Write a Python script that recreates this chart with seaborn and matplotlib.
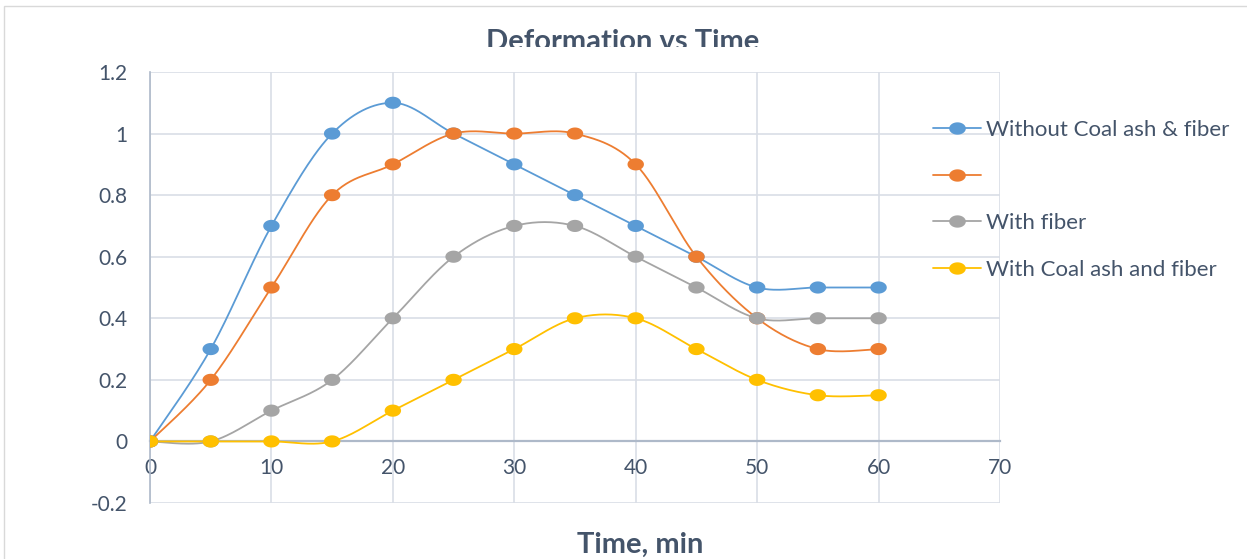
import numpy as np
import pandas as pd
import matplotlib
matplotlib.use("Agg")
import matplotlib.pyplot as plt
import seaborn as sns
from matplotlib.lines import Line2D
from matplotlib.path import Path
from matplotlib.patches import Rectangle
from matplotlib.transforms import Bbox, TransformedBbox
from matplotlib.ticker import FuncFormatter

time_min = [0, 5, 10, 15, 20, 25, 30, 35, 40, 45, 50, 55, 60]
without_coal_ash_fiber = [0, 0.3, 0.7, 1.0, 1.1, 1.0, 0.9, 0.8, 0.7, 0.6, 0.5, 0.5, 0.5]
unnamed_series = [0, 0.2, 0.5, 0.8, 0.9, 1.0, 1.0, 1.0, 0.9, 0.6, 0.4, 0.3, 0.3]
with_fiber = [0, 0, 0.1, 0.2, 0.4, 0.6, 0.7, 0.7, 0.6, 0.5, 0.4, 0.4, 0.4]
with_coal_ash_fiber = [0, 0, 0, 0, 0.1, 0.2, 0.3, 0.4, 0.4, 0.3, 0.2, 0.15, 0.15]

labels = ["Without Coal ash & fiber", "", "With fiber", "With Coal ash and fiber"]
series = [without_coal_ash_fiber, unnamed_series, with_fiber, with_coal_ash_fiber]
colors = ["#5B9BD5", "#ED7D31", "#A5A5A5", "#FFC000"]
keys = ["s1", "s2", "s3", "s4"]

text_col = "#44546A"
grid_col = "#D9DEE6"
axis_col = "#AEB9C9"


def smooth(x, y, n=30):
    # excel style smoothed line (cubic bezier / catmull-rom)
    x = np.asarray(x, float)
    y = np.asarray(y, float)
    px = np.concatenate([[x[0]], x, [x[-1]]])
    py = np.concatenate([[y[0]], y, [y[-1]]])
    xs, ys = [], []
    t = np.linspace(0, 1, n, endpoint=False)
    for i in range(1, len(px) - 2):
        b0 = np.array([px[i], py[i]])
        b3 = np.array([px[i + 1], py[i + 1]])
        b1 = b0 + (np.array([px[i + 1], py[i + 1]]) - np.array([px[i - 1], py[i - 1]])) / 6
        b2 = b3 - (np.array([px[i + 2], py[i + 2]]) - np.array([px[i], py[i]])) / 6
        pts = ((1 - t) ** 3)[:, None] * b0 + (3 * (1 - t) ** 2 * t)[:, None] * b1 \
            + (3 * (1 - t) * t ** 2)[:, None] * b2 + (t ** 3)[:, None] * b3
        xs.extend(pts[:, 0])
        ys.extend(pts[:, 1])
    xs.append(x[-1])
    ys.append(y[-1])
    return xs, ys


curves = []
points = []
for k, vals in zip(keys, series):
    sx, sy = smooth(time_min, vals)
    curves.append(pd.DataFrame({"t": sx, "d": sy, "s": k}))
    points.append(pd.DataFrame({"t": time_min, "d": vals, "s": k}))
curves = pd.concat(curves)
points = pd.concat(points)

sns.set_style("white")
plt.rcParams["font.family"] = ["Lato", "DejaVu Sans"]

fig = plt.figure(figsize=(12.47, 5.59), dpi=100)
ax = fig.add_axes([150 / 1247, 1 - 503 / 559, 850 / 1247, 431 / 559])

# ellipse marker
th = np.linspace(0, 2 * np.pi, 40)
ell = Path(np.column_stack([1.35 * np.cos(th), np.sin(th)]))

palette = dict(zip(keys, colors))
sns.lineplot(data=curves, x="t", y="d", hue="s", units="s", estimator=None, sort=False,
             palette=palette, linewidth=1.3, legend=False, ax=ax, zorder=3)
sns.scatterplot(data=points, x="t", y="d", hue="s", palette=palette, marker=ell, s=140,
                linewidth=0, legend=False, ax=ax, zorder=4)

ax.set_xlim(0, 70)
ax.set_ylim(-0.2, 1.2)
ax.set_xticks(range(0, 71, 10))
ax.set_yticks(np.arange(-0.2, 1.21, 0.2))
ax.yaxis.set_major_formatter(FuncFormatter(lambda v, p: f"{round(v, 1):g}"))
ax.grid(True, color=grid_col, linewidth=1.2)
ax.set_axisbelow(True)
ax.spines["bottom"].set_position(("data", 0))
ax.spines["bottom"].set_color(axis_col)
ax.spines["bottom"].set_linewidth(1.6)
ax.spines["left"].set_color(axis_col)
ax.spines["left"].set_linewidth(1.2)
ax.spines["top"].set_visible(False)
ax.spines["right"].set_visible(False)
ax.tick_params(length=0, labelsize=15, colors=text_col)
ax.tick_params(axis="x", pad=12)
ax.tick_params(axis="y", pad=16)
ax.set_xlabel("")
ax.set_ylabel("")

handles = [Line2D([], [], color=c, linewidth=1.3, marker=ell, markersize=12, markeredgewidth=0)
           for c in colors]
fig.legend(handles, labels, loc="upper left", bbox_to_anchor=(924 / 1247, 1 - 111 / 559),
           frameon=False, fontsize=16, labelcolor=text_col, handlelength=2.15,
           labelspacing=1.2, handletextpad=0.25, borderaxespad=0)

title = fig.text(623 / 1247, 1 - 50 / 559, "Deformation vs Time", ha="center", va="baseline",
                 fontsize=21, fontweight="bold", color=text_col)
title.set_clip_box(TransformedBbox(Bbox([[0, 1 - 47 / 559], [1, 1]]), fig.transFigure))
title.set_clip_on(True)
fig.text(640 / 1247, 1 - 553 / 559, "Time, min", ha="center", va="baseline",
         fontsize=21, fontweight="bold", color=text_col)

fig.patches.append(Rectangle((4 / 1247, -0.1), 1.2, 1 - 6 / 559 + 0.1,
                             transform=fig.transFigure, fill=False,
                             edgecolor="#D9D9D9", linewidth=1))

fig.savefig("out.png", dpi=100)
